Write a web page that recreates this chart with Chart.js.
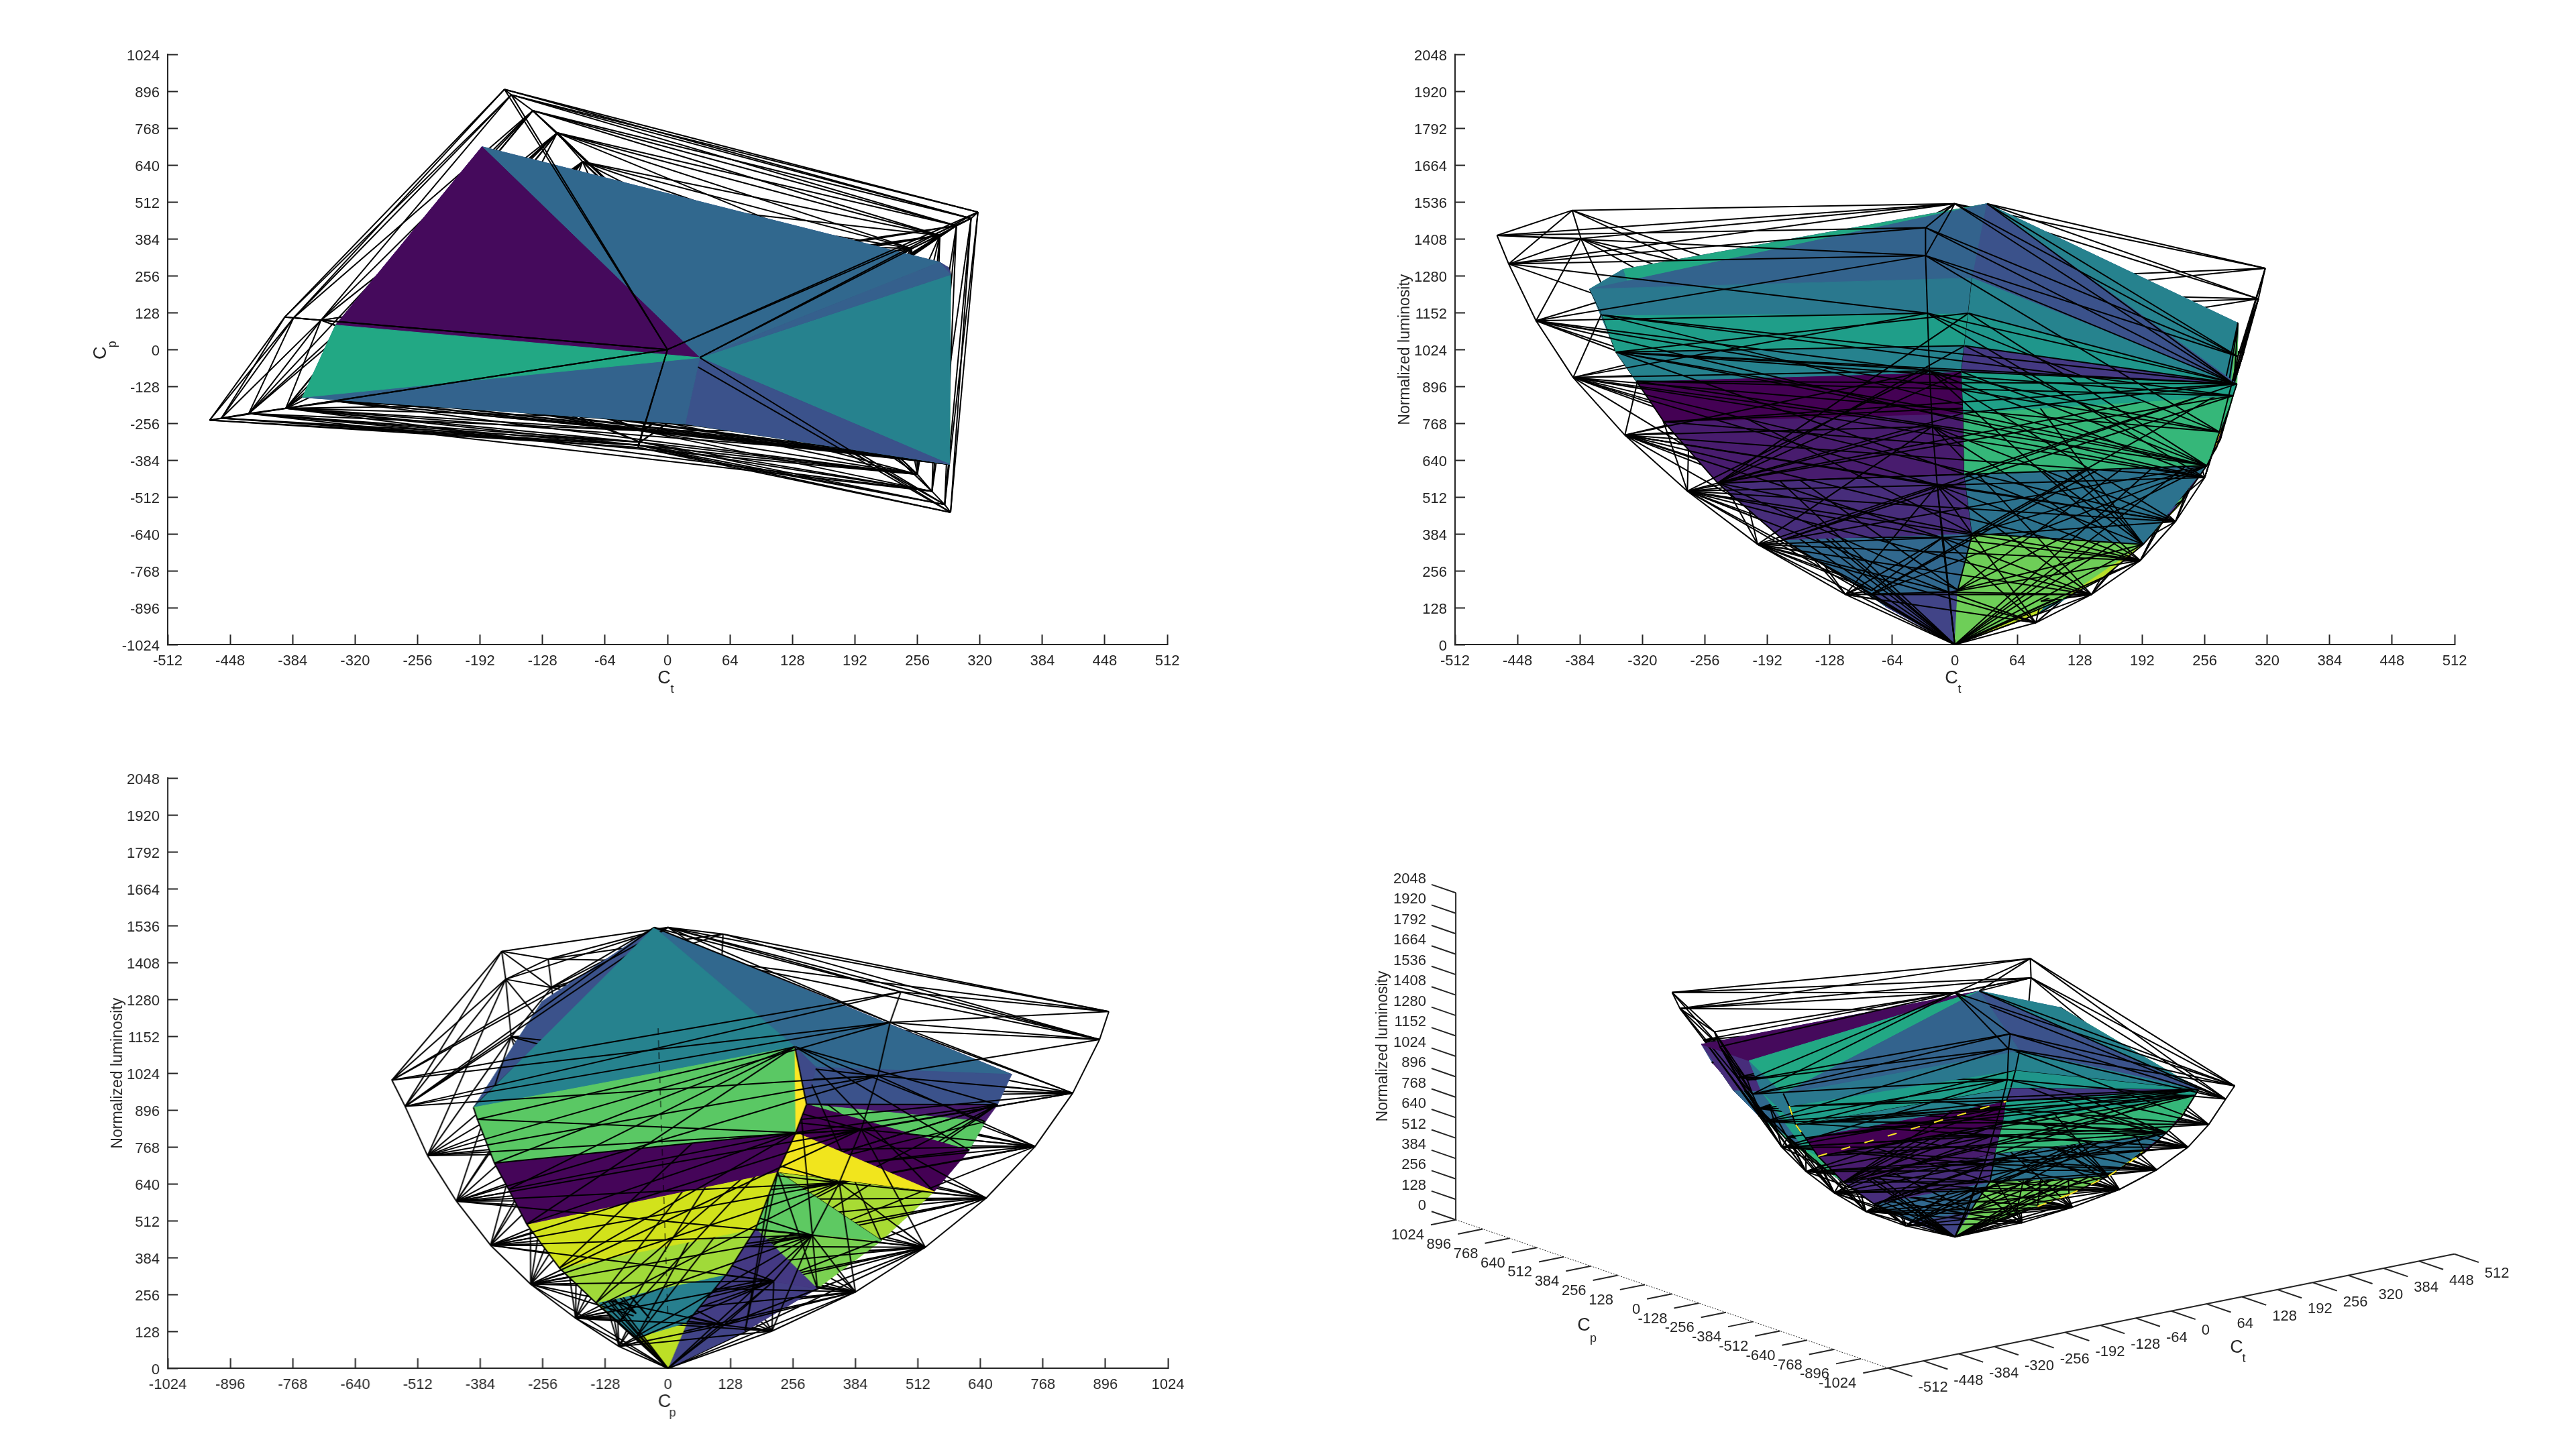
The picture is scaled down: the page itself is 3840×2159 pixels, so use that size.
<!DOCTYPE html>
<html>
<head>
<meta charset="utf-8">
<title>Gamut views</title>
<script src="https://cdn.jsdelivr.net/npm/chart.js@4/dist/chart.umd.js"></script>
<style>
  html, body { margin: 0; background: #fff; }
  body { position: relative; width: 3840px; height: 2159px; overflow: hidden; }
  canvas { position: absolute; }
</style>
</head>
<body>
<canvas id="chartTop"></canvas>
<canvas id="chartFront"></canvas>
<canvas id="chartSide"></canvas>
<canvas id="chartIso"></canvas>
<script>
// tick labels
const ctTicks = [-512,-448,-384,-320,-256,-192,-128,-64,0,64,128,192,256,320,384,448,512];
const cpTicks = [-1024,-896,-768,-640,-512,-384,-256,-128,0,128,256,384,512,640,768,896,1024];
const lumTicks = [0,128,256,384,512,640,768,896,1024,1152,1280,1408,1536,1664,1792,1920,2048];

// outer wire hull, six ridges with eight levels each
const wireCt = [
  [-167,-160,-138,-113,-87,-70,-51,-28],
  [318,311,296,279,250,215,162,88],
  [290,284,271,256,226,190,140,83],
  [-30,-30,-28,-26,-23,-18,-13,-6],
  [-469,-457,-429,-391,-338,-274,-202,-112],
  [-392,-383,-355,-320,-272,-218,-155,-85]
];
const wireCp = [
  [903,884,829,752,652,527,384,213],
  [477,455,430,396,351,295,217,115],
  [-565,-538,-492,-433,-363,-281,-189,-100],
  [-340,-332,-321,-282,-238,-186,-130,-70],
  [-245,-238,-222,-204,-180,-146,-108,-60],
  [113,110,102,92,78,63,45,24]
];
const wireLum = [
  [1238,1141,955,770,591,420,265,129],
  [1306,1200,1015,829,644,462,303,150],
  [1000,909,738,580,427,292,174,76],
  [1447,1350,1150,950,757,553,371,182],
  [1420,1321,1124,927,727,533,348,174],
  [1507,1409,1200,985,780,570,375,188]
];

// filled inner hull ridges
const ridgeACt = [289,285,272,258,233,193,150,111,85];
const ridgeACp = [-398,-390,-355,-326,-289,-222,-147,-100,-65];
const ridgeALum = [905,864,712,621,500,348,227,159,106];
const ridgeBCt = [18,14,10,7,9,10,18,3];
const ridgeBCp = [-258,-250,-238,-225,-205,-165,-118,-65];
const ridgeBLum = [1272,1150,1037,947,803,591,386,190];
const ridgeCCt = [-374,-361,-347,-326,-298,-243,-176,-86];
const ridgeCCp = [-166,-160,-154,-145,-132,-108,-78,-38];
const ridgeCLum = [1234,1144,1015,914,773,561,364,174];
const ridgeDCt = [290,288,280,268,230,185,100];
const ridgeDCp = [260,284,262,225,180,120,39];
const ridgeDLum = [1116,916,818,682,485,326,159];
const ridgeECt = [-190,-182,-175,-166,-147,-118,-83,-43];
const ridgeECp = [704,675,650,617,545,437,306,158];
const ridgeELum = [1020,915,856,757,613,443,277,129];
const ridgeFCt = [-340,-320,-290,-250,-200,-140,-70];
const ridgeFCp = [85,80,70,60,50,35,18];
const ridgeFLum = [1302,1100,900,700,500,300,130];
const extraCt = [33,0,0,279];    // T, W, O, G0
const extraCp = [-28,0,0,303];
const extraLum = [1530,1530,0,1045];

// dashed seam seen in the Cp view
const seamCp = [-20,0];
const seamLum = [1180,180];

// yellow slivers that only show in the 3D view
const isoSlivers = ['C4 B3','C1 C2','C2 C3','A7 A6','A6 A5','A5 A4'];

const hullFaces = [
  'T E0 G0','T G0 D0','T D0 A0','T A0 B0','T B0 C0','T C0 F0','T F0 E0',
  'B0 B1 A0','B1 B2 A0','B2 B3 A0','B3 B4 A1 A0','B4 B5 A3 A1','B5 B6 A5 A3','B6 B7 A7 A5','B7 O A7','A5 A6 A7',
  'C0 B0 B1 C1','C1 B1 B2 C2','C2 B2 B3 C3','C3 B3 B4 C4','C4 B4 B5 C5','C5 B5 B6 C6','C6 B6 B7 C7','C7 B7 O',
  'A0 D0 D2 A2','A2 D2 D3 A4','A4 D3 D4 A5','A5 D4 D5 A6','A6 D5 D6 A8','A8 D6 O',
  'G0 E0 E1 D1','D0 G0 D1','D0 D1 D2','D1 E1 E2','D1 E2 E3','D1 E3 E4 D2','D2 E4 D3','D3 E4 E5','D3 E5 D4','D4 E5 E6','D4 E6 D5','D5 E6 E7 D6','D6 E7 O',
  'F0 C0 C2 F1','F1 C2 C4 F3','F3 C4 C5 F4','F4 C5 C6 F5','F5 C6 C7 F6','F6 C7 O',
  'E0 F0 F1 E3','E3 F1 F3 E4','E4 F3 F4 E5','E5 F4 F5 E6','E6 F5 F6 E7','E7 F6 O'
];
const hullColors = [
  '#31688e','#35608d','#26828e','#3b528b','#33638d','#22a884','#450a5c',
  '#26838e','#1f968b','#443983','#1fa088','#35b779','#2c728e','#6ece58','#6ece58','#b8de29',
  '#2a788e','#1f9e89','#26828e','#440154','#481c6e','#472d7b','#31688e','#414487',
  '#5ac864','#450559','#d2e21b','#a0da39','#277f8e','#bddf26',
  '#3b528b','#3e4a89','#fde725','#481a6c','#5ac864','#440154','#f1e51d','#a8db34','#5ec962','#7ad151','#443983','#433e85','#414487',
  '#2a788e','#1fa088','#35b779','#481c6e','#31688e','#414487',
  '#472d7b','#31688e','#35b779','#d2e21b','#472d7b','#414487'
];

const ink = '#262626';
const tickFont = { family: '"Liberation Sans", Arial, sans-serif', size: 22 };

function ridge(name, cts, cps, lums, table) {
  cts.forEach((c, i) => { table[name + i] = { ct: c, cp: cps[i], lum: lums[i] }; });
}

const verts = {};
ridge('A', ridgeACt, ridgeACp, ridgeALum, verts);
ridge('B', ridgeBCt, ridgeBCp, ridgeBLum, verts);
ridge('C', ridgeCCt, ridgeCCp, ridgeCLum, verts);
ridge('D', ridgeDCt, ridgeDCp, ridgeDLum, verts);
ridge('E', ridgeECt, ridgeECp, ridgeELum, verts);
ridge('F', ridgeFCt, ridgeFCp, ridgeFLum, verts);
['T','W','O','G0'].forEach((k, i) => { verts[k] = { ct: extraCt[i], cp: extraCp[i], lum: extraLum[i] }; });

function wirePt(r, k) {
  r = (r + 6) % 6;
  return { ct: wireCt[r][k], cp: wireCp[r][k], lum: wireLum[r][k] };
}

// all the black mesh edges
function buildEdges() {
  const edges = [];
  for (let r = 0; r < 6; r++) {
    for (let k = 0; k < 8; k++) {
      edges.push([wirePt(r, k), wirePt(r + 1, k)]);
      if (k < 7) {
        edges.push([wirePt(r, k), wirePt(r, k + 1)]);
        edges.push([wirePt(r, k), wirePt(r + 1, k + 1)]);
        edges.push([wirePt(r + 1, k), wirePt(r, k + 1)]);
      }
      if (k >= 2) edges.push([wirePt(r, k), wirePt(r + 2, k)]);
      if (k >= 2 && k < 7) {
        edges.push([wirePt(r, k), wirePt(r + 2, k + 1)]);
        edges.push([wirePt(r + 2, k), wirePt(r, k + 1)]);
      }
      if (k >= 3 && k < 6) {
        edges.push([wirePt(r, k), wirePt(r + 1, k + 2)]);
        edges.push([wirePt(r + 1, k), wirePt(r, k + 2)]);
      }
    }
    edges.push([wirePt(r, 7), verts.O]);
    edges.push([wirePt(r, 6), verts.O]);
    edges.push([wirePt(r, 5), verts.O]);
    edges.push([wirePt(r, 0), verts.W]);
    edges.push([wirePt(r, 1), verts.W]);
  }
  [1, 2].forEach(r => {
    edges.push([wirePt(r, 0), verts.T]);
    edges.push([wirePt(r, 1), verts.T]);
  });
  // fans over the inner hull faces
  const fans = [['A0','B',8],['A0','C',8],['D0','A',9],['D0','E',8],['A1','C',8],['E1','D',7],['C2','B',8],
    ['A3','B',8],['A5','B',8],['A3','C',8],['D2','A',9],['D3','E',8],['C5','B',8],['O','A',9],['O','E',8],['O','C',8]];
  fans.forEach(f => {
    for (let i = 1; i < f[2]; i++) {
      if (verts[f[1] + i]) edges.push([verts[f[0]], verts[f[1] + i]]);
    }
  });
  ['A','B','C','D'].forEach(n => {
    for (let i = 0; verts[n + (i + 1)]; i++) edges.push([verts[n + i], verts[n + (i + 1)]]);
  });
  return edges;
}
const meshEdges = buildEdges();

// projection of the 3D panel
const isoX = p => 2814.4 + 0.8245 * (p.ct + 512) - 0.3146 * (p.cp + 1024);
const isoY = p => 2039.7 - 0.166 * (p.ct + 512) - 0.1079 * (p.cp + 1024) - 0.238 * p.lum;

const views = {
  top:   { x: p => p.ct, y: p => p.cp, far: p => -p.lum },
  front: { x: p => p.ct, y: p => p.lum, far: p => p.cp },
  side:  { x: p => p.cp, y: p => p.lum, far: p => -p.ct },
  iso:   { x: isoX, y: isoY, far: p => 0.3146 * p.ct + 0.8245 * p.cp - 0.593 * p.lum }
};

function meanFar(pts, view) {
  return pts.reduce((s, p) => s + view.far(p), 0) / pts.length;
}

// painter order: nearest first, chart.js draws index 0 last
function buildDatasets(view, bias) {
  const items = [];
  hullFaces.forEach((f, i) => {
    const pts = f.split(' ').map(k => verts[k]);
    const data = pts.concat([pts[0]]).map(p => ({ x: view.x(p), y: view.y(p) }));
    items.push({
      far: meanFar(pts, view),
      ds: { data, showLine: true, pointRadius: 0, tension: 0, fill: 'shape',
            backgroundColor: hullColors[i], borderColor: hullColors[i], borderWidth: 1 }
    });
  });
  meshEdges.forEach(e => {
    items.push({
      far: meanFar(e, view) - bias,
      ds: { data: e.map(p => ({ x: view.x(p), y: view.y(p) })), showLine: true, pointRadius: 0,
            tension: 0, fill: false, borderColor: '#000', borderWidth: 2 }
    });
  });
  items.sort((a, b) => a.far - b.far);
  return items.map(it => it.ds);
}

function axisText(ctx, text, x, y, size, angle) {
  ctx.save();
  ctx.translate(x, y);
  ctx.rotate(angle || 0);
  ctx.font = size + 'px "Liberation Sans", Arial, sans-serif';
  ctx.fillStyle = ink;
  ctx.textAlign = 'center';
  ctx.textBaseline = 'middle';
  ctx.fillText(text, 0, 0);
  ctx.restore();
}

function scaleOpts(ticks) {
  return {
    type: 'linear',
    min: ticks[0],
    max: ticks[ticks.length - 1],
    afterBuildTicks: s => { s.ticks = ticks.map(v => ({ value: v })); },
    border: { display: true, color: ink, width: 2 },
    grid: { drawOnChartArea: false, drawTicks: true, tickLength: -15, tickColor: ink, tickWidth: 2 },
    ticks: { color: ink, font: tickFont, autoSkip: false, maxRotation: 0, minRotation: 0, padding: 27, callback: v => String(v) }
  };
}

// flat panels
function flatPanel(id, left, top, view, xTicks, yTicks, labels) {
  const canvas = document.getElementById(id);
  const axisW = 120, axisH = 110, plotW = 1490, plotH = 880;
  canvas.width = axisW + plotW + 40;
  canvas.height = 40 + plotH + axisH;
  const xs = scaleOpts(xTicks), ys = scaleOpts(yTicks);
  xs.afterFit = s => { s.height = axisH; };
  ys.afterFit = s => { s.width = axisW; };
  ys.ticks.labelOffset = 3;
  const sets = buildDatasets(view, labels.bias);
  if (labels.seam) {
    sets.unshift({ data: labels.seam, showLine: true, pointRadius: 0, tension: 0, fill: false,
                   borderColor: '#000', borderWidth: 1, borderDash: [10, 8] });
  }
  const chart = new Chart(canvas, {
    type: 'scatter',
    data: { datasets: sets },
    options: {
      responsive: false, maintainAspectRatio: false, animation: false, events: [],
      layout: { autoPadding: false, padding: { top: 20, right: 40, left: 0, bottom: 0 } },
      plugins: { legend: { display: false }, tooltip: { enabled: false } },
      scales: { x: xs, y: ys }
    },
    plugins: [{
      id: 'axisLabels',
      afterDraw(chart) {
        const c = chart.ctx, sx = chart.scales.x, sy = chart.scales.y;
        const mx = sx.getPixelForValue(0), bottom = sy.getPixelForValue(yTicks[0]);
        const lx = sx.getPixelForValue(xTicks[0]), my = sy.getPixelForValue((yTicks[0] + yTicks[16]) / 2);
        axisText(c, 'C', mx - 5, bottom + 50, 27);
        axisText(c, labels.xSub, mx + 7, bottom + 67, 18);
        if (labels.ySub) {
          axisText(c, 'C', lx - 99, my + 5, 27, -Math.PI / 2);
          axisText(c, labels.ySub, lx - 82, my - 8, 18, -Math.PI / 2);
        } else {
          axisText(c, labels.y, lx - 74, my, 23, -Math.PI / 2);
        }
      }
    }]
  });
  // the layout keeps some room for tick labels, so size the canvas from what the scales actually got
  const gotW = () => chart.scales.x.getPixelForValue(xTicks[16]) - chart.scales.x.getPixelForValue(xTicks[0]);
  const gotH = () => chart.scales.y.getPixelForValue(yTicks[0]) - chart.scales.y.getPixelForValue(yTicks[16]);
  chart.resize(canvas.width + plotW - gotW(), canvas.height + plotH - gotH());
  canvas.style.left = (left - chart.scales.x.getPixelForValue(xTicks[0])) + 'px';
  canvas.style.top = (top - chart.scales.y.getPixelForValue(yTicks[16])) + 'px';
}

flatPanel('chartTop', 250, 81, views.top, ctTicks, cpTicks, { xSub: 't', ySub: 'p', bias: 0 });
flatPanel('chartFront', 2169, 81, views.front, ctTicks, lumTicks, { xSub: 't', y: 'Normalized luminosity', bias: 40 });
flatPanel('chartSide', 250, 1160, views.side, cpTicks, lumTicks, {
  xSub: 'p', y: 'Normalized luminosity', bias: 40,
  seam: seamCp.map((v, i) => ({ x: v, y: seamLum[i] }))
});

// 3D panel: scales span the canvas, axes are plain datasets through the projection
function isoPanel() {
  const canvas = document.getElementById('chartIso');
  const x0 = 2030, y0 = 1290, w = 1770, h = 860;
  canvas.width = w;
  canvas.height = h;
  canvas.style.left = x0 + 'px';
  canvas.style.top = y0 + 'px';
  const minCt = ctTicks[0], maxCt = ctTicks[16], minCp = cpTicks[0], maxCp = cpTicks[16];
  const seg = (a, b, dash, width, color) => ({
    data: [{ x: isoX(a), y: isoY(a) }, { x: isoX(b), y: isoY(b) }],
    showLine: true, pointRadius: 0, tension: 0, fill: false, borderColor: color || ink,
    borderWidth: width || 2, borderDash: dash || []
  });
  const axes = [
    seg({ ct: minCt, cp: maxCp, lum: 0 }, { ct: minCt, cp: maxCp, lum: 2048 }),
    seg({ ct: minCt, cp: maxCp, lum: 0 }, { ct: minCt, cp: minCp, lum: 0 }, [2, 2], 1),
    seg({ ct: minCt, cp: minCp, lum: 0 }, { ct: maxCt, cp: minCp, lum: 0 })
  ];
  lumTicks.forEach(v => axes.push(seg({ ct: minCt, cp: maxCp, lum: v }, { ct: minCt, cp: maxCp + 115, lum: v })));
  cpTicks.forEach(v => axes.push(seg({ ct: minCt, cp: v, lum: 0 }, { ct: minCt - 45, cp: v, lum: 0 })));
  ctTicks.forEach(v => axes.push(seg({ ct: v, cp: minCp, lum: 0 }, { ct: v, cp: minCp - 115, lum: 0 })));
  isoSlivers.forEach(s => {
    const k = s.split(' ');
    axes.push(seg(verts[k[0]], verts[k[1]], [14, 22], 2, '#fde725'));
  });

  new Chart(canvas, {
    type: 'scatter',
    data: { datasets: axes.concat(buildDatasets(views.iso, 30)) },
    options: {
      responsive: false, maintainAspectRatio: false, animation: false, events: [],
      layout: { autoPadding: false, padding: 0 },
      plugins: { legend: { display: false }, tooltip: { enabled: false } },
      scales: {
        x: { type: 'linear', display: false, min: x0, max: x0 + w },
        y: { type: 'linear', display: false, min: y0, max: y0 + h, reverse: true }
      }
    },
    plugins: [{
      id: 'isoLabels',
      afterDraw(chart) {
        const c = chart.ctx, sx = chart.scales.x, sy = chart.scales.y;
        const px = p => sx.getPixelForValue(isoX(p)), py = p => sy.getPixelForValue(isoY(p));
        c.save();
        c.font = '22px "Liberation Sans", Arial, sans-serif';
        c.fillStyle = ink;
        c.textBaseline = 'middle';
        c.textAlign = 'right';
        lumTicks.forEach(v => {
          const p = { ct: minCt, cp: maxCp + 115, lum: v };
          c.fillText(String(v), px(p) - 8, py(p) - 8);
        });
        cpTicks.forEach(v => {
          const p = { ct: minCt - 45, cp: v, lum: 0 };
          c.fillText(String(v), px(p) - 10, py(p) + 16);
        });
        c.textAlign = 'left';
        ctTicks.forEach(v => {
          const p = { ct: v, cp: minCp - 115, lum: 0 };
          c.fillText(String(v), px(p) + 9, py(p) + 17);
        });
        c.restore();
        axisText(c, 'C', sx.getPixelForValue(2361), sy.getPixelForValue(1977), 27);
        axisText(c, 'p', sx.getPixelForValue(2375), sy.getPixelForValue(1996), 18);
        axisText(c, 'C', sx.getPixelForValue(3334), sy.getPixelForValue(2010), 27);
        axisText(c, 't', sx.getPixelForValue(3345), sy.getPixelForValue(2026), 18);
        axisText(c, 'Normalized luminosity', sx.getPixelForValue(2062), sy.getPixelForValue(1560), 23, -Math.PI / 2);
      }
    }]
  });
}
isoPanel();
</script>
</body>
</html>
